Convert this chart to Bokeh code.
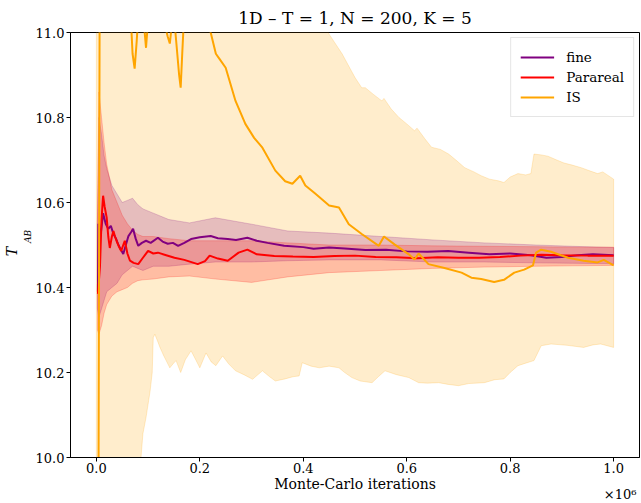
import numpy as np
from bokeh.plotting import figure
from bokeh.models import (Legend, LegendItem, FixedTicker, PrintfTickFormatter, Range1d, Title,
                          LinearAxis)
from bokeh.embed import file_html
from bokeh.resources import INLINE

# ---------------- data (x in Monte-Carlo iterations) ----------------
fine_x = [3000, 4000, 8000, 13000, 18000, 23000, 28000, 33000, 38000, 42000, 47000, 52000,
          57000, 62000, 67000, 71000, 76000, 81000, 88000, 96000, 105000, 119000, 128000,
          138000, 148000, 158000, 170000, 183000, 200000, 221000, 235000, 254000, 270000,
          292000, 310000, 331000, 363000, 400000, 420000, 450000, 480000, 520000, 560000,
          600000, 640000, 680000, 720000, 760000, 800000, 840000, 870000, 900000, 930000,
          960000, 1000000]
fine_y = [10.39, 10.55, 10.52, 10.575, 10.55, 10.538, 10.545, 10.526, 10.515, 10.502, 10.49,
          10.479, 10.50, 10.521, 10.53, 10.538, 10.515, 10.498, 10.505, 10.51, 10.505, 10.517,
          10.508, 10.503, 10.505, 10.498, 10.505, 10.514, 10.518, 10.521, 10.516, 10.514,
          10.512, 10.517, 10.51, 10.505, 10.498, 10.495, 10.491, 10.494, 10.492, 10.488,
          10.489, 10.485, 10.484, 10.486, 10.482, 10.478, 10.480, 10.476, 10.47, 10.472,
          10.476, 10.478, 10.476]

para_x = [3000, 7000, 10000, 13000, 16000, 20000, 23000, 26000, 30000, 33000, 36000, 39000,
          44000, 48000, 52000, 55000, 60000, 65000, 72000, 81000, 90000, 100000, 110000,
          119000, 135000, 151000, 170000, 196000, 210000, 219000, 235000, 254000, 275000,
          292000, 310000, 344000, 380000, 420000, 460000, 500000, 540000, 580000, 620000,
          660000, 700000, 740000, 780000, 820000, 860000, 900000, 950000, 1000000]
para_y = [10.385, 10.45, 10.56, 10.616, 10.59, 10.564, 10.52, 10.493, 10.52, 10.533, 10.52,
          10.51, 10.495, 10.486, 10.50, 10.51, 10.48, 10.463, 10.458, 10.455, 10.47, 10.486,
          10.48, 10.482, 10.476, 10.47, 10.465, 10.455, 10.462, 10.475, 10.468, 10.463,
          10.482, 10.489, 10.478, 10.474, 10.473, 10.472, 10.474, 10.475, 10.472, 10.471,
          10.469, 10.471, 10.470, 10.470, 10.472, 10.475, 10.477, 10.476, 10.475, 10.475]

is_x = [0, 4000, 7000, 20000, 40000, 60000, 66000, 70000, 74000, 78000, 82000, 88000, 92000,
        96000, 100000, 110000, 125000, 134000, 138000, 142000, 146000, 150000, 155000,
        160000, 163000, 166000, 170000, 190000, 210000, 221000, 231000, 238000, 250000,
        269000, 288000, 305000, 321000, 346000, 365000, 379000, 394000, 404000, 423000,
        450000, 469000, 488000, 513000, 546000, 556000, 577000, 604000, 615000, 623000,
        642000, 673000, 706000, 725000, 744000, 769000, 788000, 808000, 827000, 844000,
        850000, 860000, 879000, 912000, 942000, 969000, 981000, 1000000]
is_y = [9.80, 9.85, 11.40, 11.6, 11.3, 11.15, 11.05, 10.95, 10.915, 10.98, 11.06, 11.08,
        11.02, 10.964, 11.03, 11.10, 11.06, 11.01, 10.99, 10.974, 11.02, 11.04, 10.97, 10.90,
        10.87, 10.95, 11.05, 11.12, 11.06, 11.0, 10.950, 10.938, 10.917, 10.839, 10.785,
        10.752, 10.729, 10.675, 10.650, 10.644, 10.663, 10.640, 10.621, 10.593, 10.588,
        10.549, 10.526, 10.498, 10.52, 10.501, 10.478, 10.466, 10.480, 10.455, 10.446,
        10.435, 10.423, 10.420, 10.413, 10.418, 10.435, 10.442, 10.452, 10.482, 10.489,
        10.484, 10.470, 10.463, 10.459, 10.465, 10.452]

# confidence bands of fine and Parareal (shared x grid)
band_x = [2000, 5000, 10000, 15000, 20000, 30000, 40000, 50000, 60000, 70000, 80000, 90000,
          110000, 140000, 180000, 230000, 300000, 370000, 450000, 550000, 650000, 750000,
          850000, 920000, 1000000]
fine_hi = [10.55, 10.80, 10.76, 10.71, 10.68, 10.64, 10.62, 10.60, 10.605, 10.61, 10.595,
           10.585, 10.575, 10.56, 10.552, 10.564, 10.549, 10.533, 10.528, 10.52, 10.512,
           10.505, 10.50, 10.497, 10.494]
fine_lo = [10.35, 10.33, 10.35, 10.37, 10.39, 10.40, 10.41, 10.43, 10.44, 10.45, 10.445,
           10.44, 10.45, 10.45, 10.455, 10.46, 10.46, 10.463, 10.465, 10.465, 10.46, 10.46,
           10.458, 10.457, 10.456]
para_hi = [10.55, 10.86, 10.80, 10.74, 10.69, 10.63, 10.60, 10.57, 10.55, 10.535, 10.525,
           10.52, 10.52, 10.515, 10.51, 10.51, 10.51, 10.505, 10.50, 10.50, 10.498, 10.497,
           10.496, 10.495, 10.495]
para_lo = [10.30, 10.29, 10.31, 10.34, 10.36, 10.38, 10.39, 10.395, 10.40, 10.41, 10.416,
           10.418, 10.42, 10.425, 10.427, 10.42, 10.412, 10.425, 10.435, 10.44, 10.445,
           10.448, 10.45, 10.451, 10.452]

# IS band edges
is_hi_x = [0, 200000, 350000, 440000, 450000, 475000, 500000, 513000, 520000, 535000, 552000,
           556000, 570000, 585000, 600000, 615000, 620000, 635000, 648000, 665000, 681000,
           695000, 712000, 730000, 744000, 760000, 777000, 788000, 800000, 815000, 830000,
           840000, 846000, 860000, 873000, 890000, 904000, 920000, 937000, 955000, 969000,
           979000, 1000000]
is_hi = [12.0, 11.6, 11.2, 11.02, 10.996, 10.95, 10.894, 10.87, 10.87, 10.855, 10.839,
         10.845, 10.82, 10.80, 10.785, 10.769, 10.775, 10.75, 10.73, 10.725, 10.714, 10.70,
         10.682, 10.672, 10.663, 10.655, 10.651, 10.647, 10.66, 10.668, 10.665, 10.668,
         10.714, 10.712, 10.709, 10.70, 10.693, 10.688, 10.682, 10.674, 10.668, 10.672,
         10.655]
is_lo_x = [0, 50000, 80000, 85000, 90000, 96000, 104000, 108000, 110000, 113000, 118000,
           123000, 130000, 142000, 148000, 154000, 163000, 172000, 183000, 190000, 200000,
           212000, 222000, 231000, 244000, 256000, 269000, 285000, 302000, 321000, 335000,
           346000, 365000, 380000, 392000, 398000, 415000, 431000, 450000, 469000, 480000,
           494000, 510000, 533000, 545000, 558000, 580000, 604000, 623000, 640000, 662000,
           680000, 700000, 720000, 750000, 770000, 788000, 800000, 815000, 830000, 846000,
           860000, 879000, 910000, 942000, 960000, 975000, 1000000]
is_lo = [9.0, 9.4, 9.9, 9.98, 10.056, 10.094, 10.157, 10.20, 10.282, 10.29, 10.275, 10.259,
         10.24, 10.211, 10.22, 10.228, 10.20, 10.23, 10.251, 10.235, 10.211, 10.246, 10.225,
         10.216, 10.239, 10.22, 10.204, 10.195, 10.184, 10.204, 10.19, 10.18, 10.185, 10.19,
         10.192, 10.223, 10.215, 10.211, 10.215, 10.211, 10.20, 10.188, 10.18, 10.176, 10.19,
         10.204, 10.195, 10.188, 10.176, 10.175, 10.176, 10.172, 10.169, 10.174, 10.176,
         10.183, 10.185, 10.20, 10.216, 10.222, 10.228, 10.263, 10.267, 10.264, 10.259,
         10.265, 10.267, 10.259]

x_ticks = [0, 200000, 400000, 600000, 800000, 1000000]
x_tick_labels = ["0.0", "0.2", "0.4", "0.6", "0.8", "1.0"]
y_ticks = [10.0, 10.2, 10.4, 10.6, 10.8, 11.0]

FINE_C = "#800080"
PARA_C = "#ff0000"
IS_C = "#ffa500"
FONT = "DejaVu Serif"
NB = "\u00a0"

p = figure(width=641, height=503, x_range=Range1d(-50000, 1050000), y_range=Range1d(10.0, 11.0),
           output_backend="svg", toolbar_location=None,
           min_border_left=67, min_border_right=2, min_border_top=31, min_border_bottom=46,
           title="1D \u2013 T = 1, N = 200, K = 5")
p.title.align = "center"
p.title.text_font = FONT
p.title.text_font_size = "17px"
p.title.text_font_style = "normal"
p.title.text_color = "black"
p.xgrid.visible = False
p.ygrid.visible = False
p.outline_line_color = "black"
p.outline_line_alpha = 1
p.outline_line_width = 1
p.background_fill_color = "white"
p.border_fill_color = "white"

def band(xs_hi, ys_hi, xs_lo, ys_lo, color, alpha):
    px = np.concatenate([np.asarray(xs_hi, float), np.asarray(xs_lo, float)[::-1]])
    py = np.concatenate([np.asarray(ys_hi, float), np.asarray(ys_lo, float)[::-1]])
    p.patch(px, py, fill_color=color, fill_alpha=alpha, line_color=color, line_alpha=alpha,
            line_width=1)

band(is_hi_x, is_hi, is_lo_x, is_lo, IS_C, 0.2)
band(band_x, fine_hi, band_x, fine_lo, FINE_C, 0.2)
band(band_x, para_hi, band_x, para_lo, PARA_C, 0.2)

r_fine = p.line(fine_x, fine_y, line_color=FINE_C, line_width=2)
r_para = p.line(para_x, para_y, line_color=PARA_C, line_width=2)
r_is = p.line(is_x, is_y, line_color=IS_C, line_width=2)

legend = Legend(items=[LegendItem(label="fine", renderers=[r_fine]),
                       LegendItem(label="Parareal", renderers=[r_para]),
                       LegendItem(label="IS", renderers=[r_is])],
                location="top_right")
legend.label_text_font = FONT
legend.label_text_font_size = "13.5px"
legend.label_text_color = "black"
legend.glyph_width = 34
legend.glyph_height = 20
legend.label_standoff = 12
legend.padding = 9
legend.spacing = 0
legend.margin = 5
legend.border_line_color = "#cccccc"
legend.border_line_width = 1
legend.background_fill_alpha = 0.85
p.add_layout(legend)

for ax in (p.xaxis, p.yaxis):
    ax.axis_line_color = "black"
    ax.major_tick_line_color = "black"
    ax.major_tick_in = 0
    ax.major_tick_out = 4
    ax.minor_tick_line_color = None
    ax.major_label_text_font = FONT
    ax.major_label_text_font_size = "13px"
    ax.major_label_text_color = "black"

p.xaxis.major_label_standoff = 1
p.yaxis.major_label_standoff = 2
p.xaxis.ticker = FixedTicker(ticks=x_ticks)
p.xaxis.major_label_overrides = dict(zip(x_ticks, x_tick_labels))
p.xaxis.axis_label = "Monte-Carlo iterations"
p.xaxis.axis_label_text_font = FONT
p.xaxis.axis_label_text_font_size = "14px"
p.xaxis.axis_label_text_font_style = "normal"
p.xaxis.axis_label_text_color = "black"
p.xaxis.axis_label_standoff = 0

p.yaxis.ticker = FixedTicker(ticks=y_ticks)
p.yaxis.formatter = PrintfTickFormatter(format="%.1f")
# subscript "AB" of the y label T_AB, right next to the tick labels
p.yaxis.axis_label = NB * 6 + "AB"
p.yaxis.axis_label_standoff = 0
p.yaxis.axis_label_text_font = FONT
p.yaxis.axis_label_text_font_style = "italic"
p.yaxis.axis_label_text_font_size = "9px"
p.yaxis.axis_label_text_color = "black"

# the "T" of the y label, on a label-only axis further out
p.add_layout(LinearAxis(ticker=FixedTicker(ticks=[]), axis_label="T" + NB * 3,
                        axis_label_standoff=0, axis_label_text_font=FONT,
                        axis_label_text_font_style="italic", axis_label_text_font_size="14px",
                        axis_label_text_color="black", axis_line_color=None,
                        major_tick_line_color=None, minor_tick_line_color=None,
                        major_tick_out=0, major_tick_in=0, minor_tick_out=0, minor_tick_in=0,
                        major_label_standoff=0, major_label_text_font_size="1px"), "left")

# x offset text at the right end of the axis-label row
p.add_layout(Title(text="\u00d710\u2076", align="right", vertical_align="middle", offset=3,
                   standoff=-30, text_font=FONT, text_font_style="normal",
                   text_font_size="13px", text_color="black"), "below")

open("out.html", "w").write(file_html(p, INLINE))
